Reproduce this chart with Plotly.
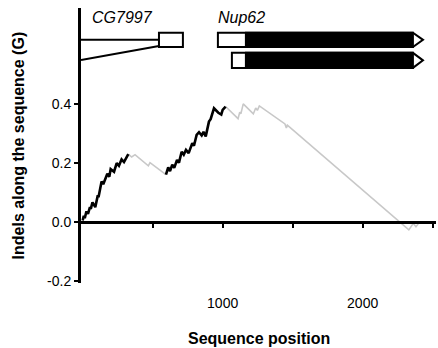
import plotly.graph_objects as go

# ---- data ----
black1_x = [0, 8, 15, 27, 38, 52, 58, 70, 90, 108, 113, 135, 147, 176, 190, 200, 224, 243, 259, 278, 295, 326]
black1_y = [0.005, 0.021, 0.013, 0.036, 0.027, 0.050, 0.044, 0.066, 0.050, 0.090, 0.084, 0.137, 0.128, 0.163,
            0.153, 0.179, 0.170, 0.199, 0.190, 0.212, 0.203, 0.230]
gray1_x = [326, 350, 374, 469, 481, 595]
gray1_y = [0.230, 0.220, 0.228, 0.190, 0.201, 0.160]
black2_x = [595, 611, 624, 640, 654, 674, 688, 707, 722, 738, 757, 783, 795, 814, 831, 850, 863, 879, 902,
            914, 938, 969, 990, 1000, 1021]
black2_y = [0.160, 0.185, 0.172, 0.194, 0.183, 0.210, 0.201, 0.238, 0.228, 0.244, 0.233, 0.267, 0.258, 0.295,
            0.304, 0.293, 0.305, 0.290, 0.340, 0.348, 0.385, 0.370, 0.364, 0.380, 0.391]
gray2_x = [1021, 1110, 1122, 1130, 1147, 1219, 1236, 1248, 1262, 1445, 1455, 1462, 2330, 2362, 2381, 2409]
gray2_y = [0.391, 0.350, 0.372, 0.366, 0.400, 0.366, 0.386, 0.378, 0.393, 0.332, 0.318, 0.328, -0.027,
           -0.005, -0.016, 0.001]

y_tickvals = [-0.2, 0.0, 0.2, 0.4]
y_ticktext = ["-0.2", "0.0", "0.2", "0.4"]
x_minor_ticks = [500, 1000, 1500, 2000, 2500]
x_label_vals = [1000, 2000]
x_label_text = ["1000", "2000"]

# gene models (sequence coordinates)
cg7997_name = "CG7997"
cg7997_exon = [545, 716]
nup62_name = "Nup62"
nup62_tx1 = [966, 1166, 2359, 2431]   # start, UTR end, CDS end, tip
nup62_tx2 = [1066, 1166, 2359, 2431]

# ---- layout constants ----
XR = [-12, 2524]
YR = [-0.207, 0.725]
row1 = [0.593, 0.641]
row2 = [0.522, 0.573]
intron_y_flat = 0.617
intron_y_slant = [0.549, 0.596]

FONT = "Liberation Sans, Arial, Helvetica, sans-serif"

fig = go.Figure()
for xs, ys, col, w in [(gray1_x, gray1_y, "#c8c8c8", 1.6), (gray2_x, gray2_y, "#c8c8c8", 1.6),
                       (black1_x, black1_y, "black", 2.6), (black2_x, black2_y, "black", 2.6)]:
    fig.add_trace(go.Scatter(x=xs, y=ys, mode="lines", line=dict(color=col, width=w),
                             showlegend=False, hoverinfo="skip"))

shapes = []
# CG7997 introns
shapes.append(dict(type="line", xref="x", yref="y", x0=XR[0], x1=cg7997_exon[0],
                   y0=intron_y_flat, y1=intron_y_flat, line=dict(color="black", width=2)))
shapes.append(dict(type="line", xref="x", yref="y", x0=XR[0], x1=cg7997_exon[0],
                   y0=intron_y_slant[0], y1=intron_y_slant[1], line=dict(color="black", width=2)))
shapes.append(dict(type="rect", xref="x", yref="y", x0=cg7997_exon[0], x1=cg7997_exon[1],
                   y0=row1[0], y1=row1[1], fillcolor="white", line=dict(color="black", width=2)))


def pentagon(tx, row):
    s, u, c, t = tx
    lo, hi = row
    mid = (lo + hi) / 2
    return f"M {s},{lo} L {c},{lo} L {t},{mid} L {c},{hi} L {s},{hi} Z"


for tx, row in [(nup62_tx1, row1), (nup62_tx2, row2)]:
    shapes.append(dict(type="path", xref="x", yref="y", path=pentagon(tx, row),
                       fillcolor="white", line=dict(color="black", width=2)))
    shapes.append(dict(type="rect", xref="x", yref="y", x0=tx[1], x1=tx[2], y0=row[0], y1=row[1],
                       fillcolor="black", line=dict(color="black", width=2)))

annotations = [
    dict(text=f"<i>{cg7997_name}</i>", x=55, y=0.693, xref="x", yref="y", xanchor="left",
         yanchor="middle", showarrow=False, font=dict(family=FONT, size=16, color="black")),
    dict(text=f"<i>{nup62_name}</i>", x=nup62_tx1[0] - 15, y=0.693, xref="x", yref="y", xanchor="left",
         yanchor="middle", showarrow=False, font=dict(family=FONT, size=16, color="black")),
    dict(text="<b>Indels along the sequence (G)</b>", x=-0.175, y=0.5, xref="paper", yref="paper",
         textangle=-90, showarrow=False, xanchor="center", yanchor="middle",
         font=dict(family=FONT, size=16, color="black")),
    dict(text="<b>Sequence position</b>", x=0.5, y=-0.2, xref="paper", yref="paper",
         showarrow=False, xanchor="center", yanchor="middle",
         font=dict(family=FONT, size=16, color="black")),
]

zero_pos = (0 - YR[0]) / (YR[1] - YR[0])

fig.update_layout(
    width=438, height=348,
    margin=dict(l=81, r=2, t=8, b=65),
    paper_bgcolor="white", plot_bgcolor="white",
    shapes=shapes, annotations=annotations,
    xaxis=dict(range=XR, anchor="free", position=zero_pos, showline=True, linecolor="black",
               linewidth=3, ticks="outside", ticklen=4, tickwidth=2, tickcolor="black",
               tickvals=x_minor_ticks, showticklabels=False, showgrid=False, zeroline=False),
    xaxis2=dict(range=XR, overlaying="x", anchor="y", side="bottom", showline=False, ticks="",
                tickvals=x_label_vals, ticktext=x_label_text, showgrid=False, zeroline=False,
                ticklabelstandoff=10, tickfont=dict(family=FONT, size=14, color="black")),
    yaxis=dict(range=YR, showline=True, linecolor="black", linewidth=3, ticks="outside",
               ticklen=4, tickwidth=2, tickcolor="black", tickvals=y_tickvals, ticktext=y_ticktext,
               showgrid=False, zeroline=False, tickfont=dict(family=FONT, size=14, color="black")),
)
# dummy trace so xaxis2 is rendered
fig.add_trace(go.Scatter(x=[None], y=[None], xaxis="x2", yaxis="y", showlegend=False, hoverinfo="skip"))

fig.write_html("out.html", config={"displayModeBar": False},
               post_script="document.body.style.margin='0';document.body.style.padding='0';")
